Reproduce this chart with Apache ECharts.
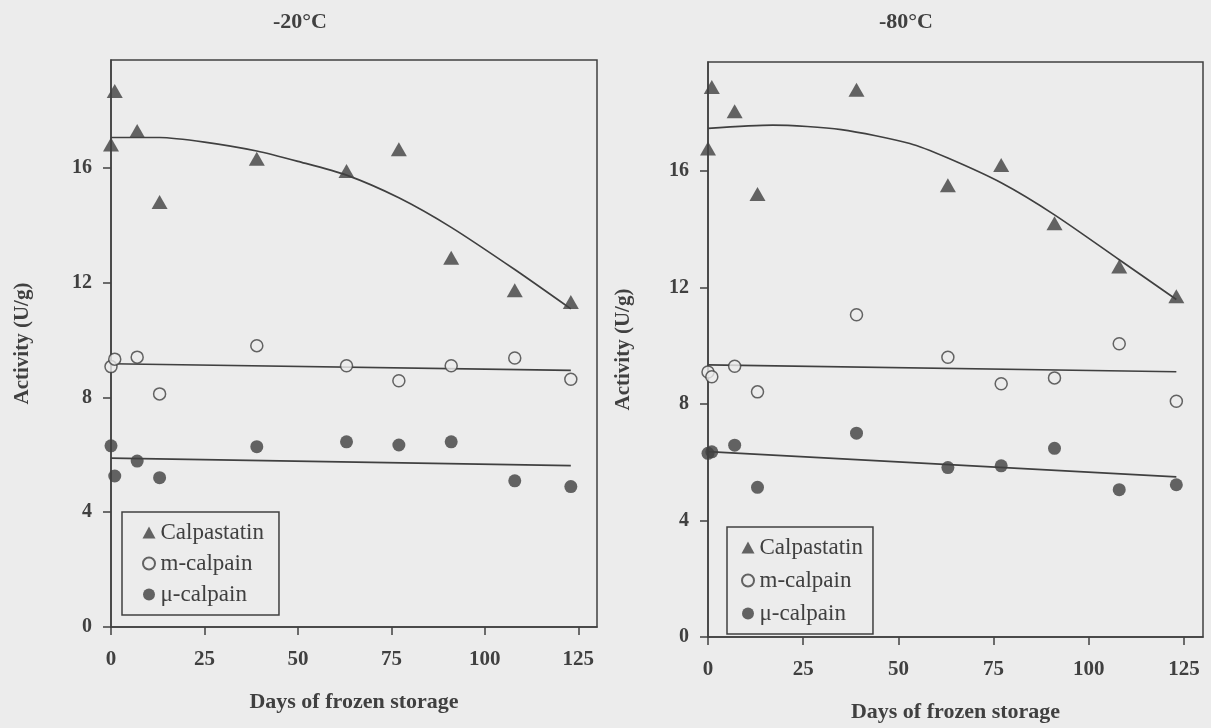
<!DOCTYPE html>
<html>
<head>
<meta charset="utf-8">
<script src="https://cdn.jsdelivr.net/npm/echarts@6/dist/echarts.min.js"></script>
<style>
  html, body { margin: 0; padding: 0; background: #ececec; }
  #chart { width: 1211px; height: 728px; }
</style>
</head>
<body>
<div id="chart"></div>
<script>
// sampling days (both storage temperatures)
const days = [0, 1, 7, 13, 39, 63, 77, 91, 108, 123];

// -20°C panel
const calp20 = [16.81, 18.67, 17.28, 14.80, 16.31, 15.88, 16.64, 12.86, 11.73, 11.32];
const mCalp20 = [9.07, 9.33, 9.40, 8.12, 9.80, 9.10, 8.58, 9.10, 9.37, 8.63];
const muCalp20 = [6.31, 5.26, 5.78, 5.20, 6.28, 6.45, 6.34, 6.45, 5.09, 4.89];
const calpFitDays20 = [0, 13, 25, 39, 50, 63, 77, 91, 108, 123];
const calpFit20 = [17.05, 17.05, 16.89, 16.58, 16.22, 15.74, 14.95, 13.92, 12.45, 11.08];
const mFit20 = [9.17, 8.94];
const muFit20 = [5.88, 5.62];

// -80°C panel
const calp80 = [16.78, 18.89, 18.06, 15.22, 18.80, 15.52, 16.21, 14.21, 12.73, 11.70];
const mCalp80 = [9.10, 8.94, 9.30, 8.42, 11.07, 9.61, 8.70, 8.90, 10.07, 8.10];
const muCalp80 = [6.31, 6.36, 6.59, 5.14, 7.00, 5.82, 5.88, 6.48, 5.06, 5.23];
const calpFitDays80 = [0, 17, 35, 53, 63, 77, 91, 108, 123];
const calpFit80 = [17.47, 17.58, 17.43, 16.95, 16.45, 15.60, 14.50, 12.96, 11.59];
const mFit80 = [9.35, 9.11];
const muFit80 = [6.37, 5.50];

const lineDays = [0, 123];
const xTicks = [0, 25, 50, 75, 100, 125];
const yTicks = [0, 4, 8, 12, 16];
const panelTitles = ['-20°C', '-80°C'];
const names = ['Calpastatin', 'm-calpain', 'μ-calpain'];

const ink = '#404040';
const bg = '#ececec';
const font = 'Liberation Serif';

const pair = (xs, ys) => xs.map((x, i) => [x, ys[i]]);

const chart = echarts.init(document.getElementById('chart'));

const grids = [
  { left: 111, top: 60, width: 486, height: 567 },
  { left: 708, top: 62, width: 495, height: 576 }
];

const xAxes = grids.map((g, i) => ({
  type: 'value', gridIndex: i, min: 0, max: 130,
  name: 'Days of frozen storage', nameLocation: 'middle', nameGap: 64,
  nameTextStyle: { fontFamily: font, fontWeight: 'bold', fontSize: 22, color: ink },
  axisLine: { show: true, lineStyle: { color: ink, width: 1.5 } },
  axisTick: { show: true, length: 8, customValues: xTicks, lineStyle: { color: ink, width: 1.5 } },
  axisLabel: { customValues: xTicks, margin: 22, fontFamily: font, fontWeight: 'bold', fontSize: 21, color: ink },
  splitLine: { show: false }
}));

const yAxes = grids.map((g, i) => ({
  type: 'value', gridIndex: i, min: 0, max: 19.75,
  name: 'Activity (U/g)', nameLocation: 'middle', nameGap: i === 0 ? 78 : 74,
  nameTextStyle: { fontFamily: font, fontWeight: 'bold', fontSize: 21, color: ink },
  axisLine: { show: true, lineStyle: { color: ink, width: 1.5 } },
  axisTick: { show: true, length: 8, customValues: yTicks, lineStyle: { color: ink, width: 1.5 } },
  axisLabel: { customValues: yTicks, margin: 19, fontFamily: font, fontWeight: 'bold', fontSize: 20, color: ink },
  splitLine: { show: false }
}));

function panelSeries(i, calp, mCalp, muCalp, fitDays, calpFit, mFit, muFit) {
  const fitStyle = { color: ink, width: 1.7 };
  return [
    { name: 'fit-c' + i, type: 'line', xAxisIndex: i, yAxisIndex: i, data: pair(fitDays, calpFit),
      smooth: 0.25, showSymbol: false, silent: true, lineStyle: fitStyle, z: 1 },
    { name: 'fit-m' + i, type: 'line', xAxisIndex: i, yAxisIndex: i, data: pair(lineDays, mFit),
      showSymbol: false, silent: true, lineStyle: fitStyle, z: 1 },
    { name: 'fit-mu' + i, type: 'line', xAxisIndex: i, yAxisIndex: i, data: pair(lineDays, muFit),
      showSymbol: false, silent: true, lineStyle: fitStyle, z: 1 },
    { name: names[0], type: 'scatter', xAxisIndex: i, yAxisIndex: i, data: pair(days, calp),
      symbol: 'triangle', symbolSize: [16, 14], itemStyle: { color: ink }, z: 3 },
    { name: names[1], type: 'scatter', xAxisIndex: i, yAxisIndex: i, data: pair(days, mCalp),
      symbol: 'circle', symbolSize: 12, itemStyle: { color: bg, borderColor: ink, borderWidth: 1.5 }, z: 3 },
    { name: names[2], type: 'scatter', xAxisIndex: i, yAxisIndex: i, data: pair(days, muCalp),
      symbol: 'circle', symbolSize: 13, itemStyle: { color: ink }, z: 3 }
  ];
}

const legendBase = {
  data: names, orient: 'vertical', itemWidth: 13, itemHeight: 12,
  borderColor: ink, borderWidth: 1.5, backgroundColor: bg,
  textStyle: { fontFamily: font, fontSize: 23, color: ink },
  selectedMode: false
};

chart.setOption({
  backgroundColor: bg,
  animation: false,
  title: [
    { text: panelTitles[0], left: 273, top: 11, padding: 0,
      textStyle: { fontFamily: font, fontWeight: 'bold', fontSize: 22, color: ink } },
    { text: panelTitles[1], left: 879, top: 11, padding: 0,
      textStyle: { fontFamily: font, fontWeight: 'bold', fontSize: 22, color: ink } }
  ],
  legend: [
    Object.assign({}, legendBase, { left: 122, top: 512, itemGap: 8, padding: [9, 15, 9, 20] }),
    Object.assign({}, legendBase, { left: 727, top: 527, itemGap: 10, padding: [9, 10, 9, 14] })
  ],
  grid: grids.map(g => Object.assign({ show: true, borderColor: ink, borderWidth: 1.5, backgroundColor: 'transparent' }, g)),
  xAxis: xAxes,
  yAxis: yAxes,
  series: [].concat(
    panelSeries(0, calp20, mCalp20, muCalp20, calpFitDays20, calpFit20, mFit20, muFit20),
    panelSeries(1, calp80, mCalp80, muCalp80, calpFitDays80, calpFit80, mFit80, muFit80)
  )
});
</script>
</body>
</html>
